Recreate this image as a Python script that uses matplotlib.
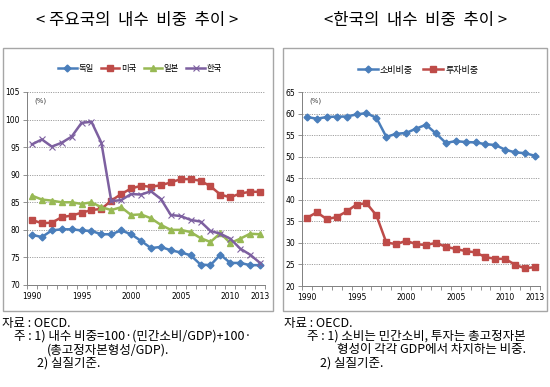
import matplotlib
matplotlib.use("Agg")
import matplotlib.pyplot as plt
from matplotlib.patches import Rectangle

plt.rcParams['font.family'] = ['Noto Sans CJK KR', 'DejaVu Sans']

years = list(range(1990, 2014))
xlabels = ['1990', '1995', '2000', '2005', '2010', '2013']
xlabel_pos = [0, 5, 10, 15, 20, 23]

# 주요국 내수 비중 (%)
germany = [79.1, 78.7, 79.9, 80.1, 80.1, 79.9, 79.8, 79.2, 79.2, 79.9, 79.2, 78.0,
           76.7, 76.9, 76.3, 75.9, 75.4, 73.7, 73.6, 75.5, 74.0, 74.0, 73.6, 73.6]
usa = [81.8, 81.2, 81.3, 82.3, 82.6, 83.1, 83.6, 83.8, 85.3, 86.5, 87.5, 88.0,
       87.8, 88.1, 88.6, 89.2, 89.2, 88.9, 87.9, 86.4, 85.9, 86.6, 86.9, 86.9]
japan = [86.2, 85.5, 85.3, 85.0, 85.0, 84.7, 85.0, 84.1, 83.6, 84.1, 82.7, 82.8,
         82.1, 80.9, 80.0, 80.0, 79.6, 78.5, 77.8, 79.4, 77.6, 78.4, 79.3, 79.2]
korea = [95.5, 96.4, 95.1, 95.8, 96.9, 99.4, 99.6, 95.8, 85.2, 85.4, 86.5, 86.4,
         87.0, 85.6, 82.7, 82.5, 81.8, 81.5, 79.8, 79.3, 78.4, 76.6, 75.5, 74.0]

# 한국 소비/투자 비중 (%)
consumption = [59.2, 58.8, 59.2, 59.3, 59.3, 59.8, 60.1, 59.0, 54.6, 55.3, 55.5, 56.5,
               57.4, 55.4, 53.2, 53.6, 53.4, 53.3, 52.9, 52.7, 51.6, 51.0, 50.8, 50.2]
investment = [35.8, 37.1, 35.5, 36.0, 37.3, 38.9, 39.2, 36.4, 30.1, 29.7, 30.5, 29.7,
              29.5, 30.0, 29.1, 28.6, 28.1, 27.8, 26.7, 26.3, 26.3, 24.9, 24.1, 24.4]

BLUE = '#4A7EBB'
RED = '#BE4B48'
GREEN = '#98B954'
PURPLE = '#7D60A0'

W, H = 550, 387
fig = plt.figure(figsize=(5.5, 3.87), dpi=100)


def px(x0, y0, x1, y1):
    # pixel box (top-left origin) -> figure fraction rect
    return [x0 / W, 1 - y1 / H, (x1 - x0) / W, (y1 - y0) / H]


# outer boxes
for (x0, y0, x1, y1) in [(3, 48, 273, 311), (283, 48, 547, 311)]:
    fig.add_artist(Rectangle((x0 / W, 1 - y1 / H), (x1 - x0) / W, (y1 - y0) / H,
                             transform=fig.transFigure, fill=False,
                             edgecolor='#A6A6A6', lw=1.0))


def style_axes(ax, ymin, ymax):
    xs = range(len(years))
    ax.set_xlim(-0.5, len(years) - 0.5)
    ax.set_ylim(ymin, ymax)
    ax.set_yticks(range(ymin, ymax + 1, 5))
    ax.set_xticks(xlabel_pos)
    ax.set_xticklabels(xlabels)
    ax.set_xticks([i + 0.5 for i in range(-1, len(years))], minor=True)
    ax.tick_params(axis='x', which='major', length=0, labelsize=5.5, pad=5)
    ax.tick_params(axis='x', which='minor', length=3, width=0.6, color='#808080')
    ax.tick_params(axis='y', length=3, width=0.6, color='#808080', labelsize=5.5, pad=2)
    for lab in ax.get_xticklabels() + ax.get_yticklabels():
        lab.set_fontfamily('DejaVu Sans')
    for v in range(ymin + 5, ymax + 1, 5):
        ax.axhline(v, color='#A0A0A0', lw=0.7, ls=(0, (1.2, 1.2)), zorder=0)
    ax.spines['top'].set_visible(False)
    ax.spines['right'].set_visible(False)
    ax.spines['left'].set_color('#808080')
    ax.spines['bottom'].set_color('#808080')
    ax.spines['left'].set_linewidth(0.7)
    ax.spines['bottom'].set_linewidth(0.7)
    ax.text(0.03, 0.97, '(%)', transform=ax.transAxes, fontsize=5, va='top',
            color='#404040', family='DejaVu Sans')
    return xs


# left chart
ax1 = fig.add_axes(px(27, 92, 265, 285))
xs = style_axes(ax1, 70, 105)
ax1.plot(xs, germany, color=BLUE, lw=1.8, marker='D', ms=3.5, label='독일')
ax1.plot(xs, usa, color=RED, lw=1.8, marker='s', ms=5, label='미국')
ax1.plot(xs, japan, color=GREEN, lw=1.8, marker='^', ms=5, label='일본')
ax1.plot(xs, korea, color=PURPLE, lw=1.8, marker='x', ms=5, mew=0.8, label='한국')
ax1.legend(loc='center', bbox_to_anchor=(140 / W, 1 - 68 / H),
           bbox_transform=fig.transFigure, ncol=4, frameon=False,
           fontsize=6, handlelength=2.2, handletextpad=0.2, columnspacing=0.9,
           borderaxespad=0)

# right chart
ax2 = fig.add_axes(px(302, 92, 540, 286))
xs = style_axes(ax2, 20, 65)
ax2.plot(xs, consumption, color=BLUE, lw=1.8, marker='D', ms=3.5, label='소비비중')
ax2.plot(xs, investment, color=RED, lw=1.8, marker='s', ms=5, label='투자비중')
ax2.legend(loc='center', bbox_to_anchor=(418 / W, 1 - 70 / H),
           bbox_transform=fig.transFigure, ncol=2, frameon=False,
           fontsize=6.5, handlelength=2.2, handletextpad=0.2, columnspacing=1.2,
           borderaxespad=0)

# titles
fig.text(137 / W, 1 - 20 / H, '< 주요국의  내수  비중  추이 >', ha='center', va='center',
         fontsize=12)
fig.text(416 / W, 1 - 20 / H, '<한국의  내수  비중  추이 >', ha='center', va='center',
         fontsize=12)

# footnotes
fs = 9
lh = 13.5
left_notes = [
    (2, '자료 : OECD.'),
    (14, '주 : 1) 내수 비중=100·(민간소비/GDP)+100·'),
    (47, '(총고정자본형성/GDP).'),
    (37, '2) 실질기준.'),
]
right_notes = [
    (284, '자료 : OECD.'),
    (307, '주 : 1) 소비는 민간소비, 투자는 총고정자본'),
    (337, '형성이 각각 GDP에서 차지하는 비중.'),
    (320, '2) 실질기준.'),
]
for notes in (left_notes, right_notes):
    for i, (x, s) in enumerate(notes):
        fig.text(x / W, 1 - (323 + i * lh) / H, s, fontsize=fs, va='center', ha='left')

fig.savefig('out.png', dpi=100)
